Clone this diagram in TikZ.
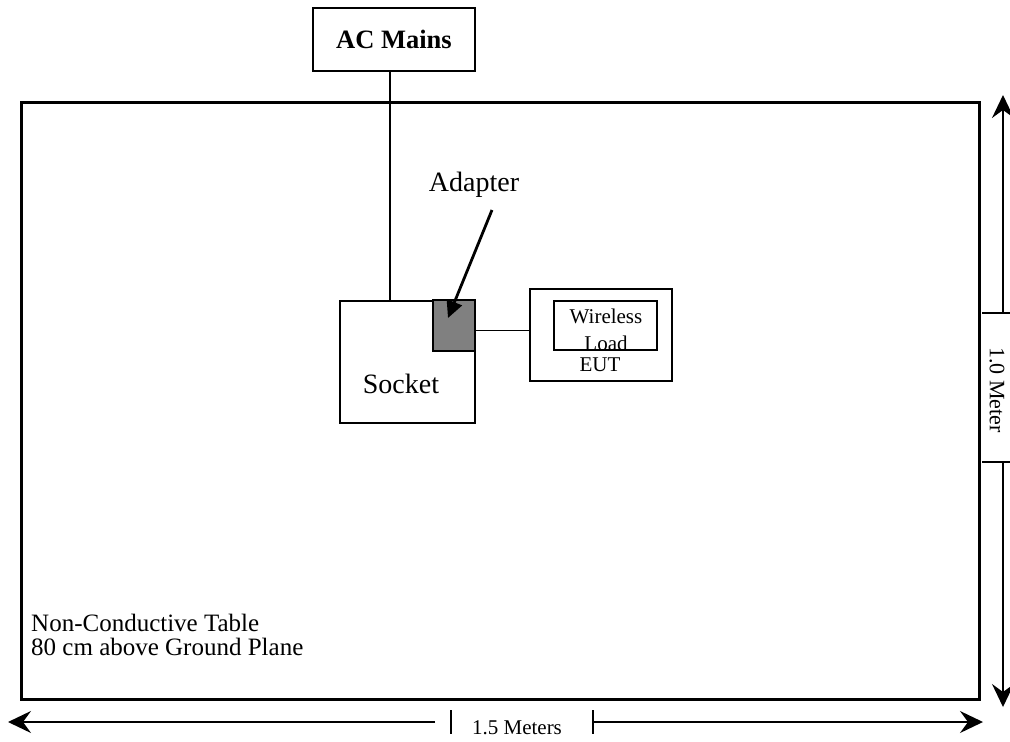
\documentclass[tikz,border=0pt]{standalone}
\usepackage{fontspec}
\setmainfont{Liberation Serif}
\usetikzlibrary{arrows.meta}
\begin{document}
\begin{tikzpicture}[x=1pt,y=-1pt,
  box/.style={draw,line width=1.8pt,inner sep=0pt},
  wire/.style={line width=1.8pt},
  dim/.style={line width=1.6pt},
  bigarrow/.style={-{Stealth[length=23pt,width=22pt,inset=8pt]}},
  lbl/.style={inner sep=0pt}]
\useasboundingbox (0,0) rectangle (1010,742);
% table
\node[draw,line width=3pt,inner sep=0pt,minimum width=958pt,minimum height=597pt] (table) at (500,401) {};
\node[lbl,anchor=north west,align=left,font=\fontsize{25}{24}\selectfont] (tabletext) at (31,614) {Non-Conductive Table\\80 cm above Ground Plane};
% AC mains
\node[box,minimum width=162pt,minimum height=63pt,font=\fontsize{26.5}{28}\selectfont\bfseries] (ac) at (394,39.5) {AC Mains};
% socket
\node[box,minimum width=135pt,minimum height=122pt] (socket) at (407.5,362) {};
\node[lbl,font=\fontsize{28}{30}\selectfont] (sockettext) at (401,384) {Socket};
% adapter
\node[box,fill=black!50,minimum width=42pt,minimum height=51pt] (adapter) at (454,325.5) {};
\node[lbl,font=\fontsize{28}{30}\selectfont] (adaptertext) at (474,185) {Adapter};
\coordinate (arrstart) at (492,210);
\draw[line width=2.8pt,-{Triangle[length=17pt,width=16pt]}] (arrstart) -- (448,318);
% EUT
\node[box,minimum width=142pt,minimum height=92pt] (eut) at (601,335) {};
\node[box,minimum width=103pt,minimum height=49pt] (load) at (605.5,325.5) {};
\node[lbl,font=\fontsize{21}{24}\selectfont] (wl) at (606,316.5) {Wireless};
\node[lbl,font=\fontsize{21}{24}\selectfont] (ld) at (606,343.5) {Load};
\node[lbl,font=\fontsize{21}{24}\selectfont] (euttext) at (600,365) {EUT};
% wires
\draw[wire] (390,0 |- ac.south) -- (390,0 |- socket.north);
\draw[wire] (adapter.east |- 0,330.5) -- (eut.west |- 0,330.5);
% right dimension
\coordinate (rtop) at (1003,95);
\coordinate (rt1) at (1003,313);
\coordinate (rt2) at (1003,462);
\coordinate (rbot) at (1003,707);
\draw[dim,bigarrow] (rt1) -- (rtop);
\draw[dim,bigarrow] (rt2) -- (rbot);
\draw[dim] (982,313) -- (1010,313);
\draw[dim] (982,462) -- (1010,462);
\node[lbl,rotate=-90,font=\fontsize{22}{24}\selectfont] (vlab) at (997,390) {1.0 Meter};
% bottom dimension
\coordinate (bl) at (8,722);
\coordinate (bl1) at (435,722);
\coordinate (br1) at (593,722);
\coordinate (br) at (983,722);
\draw[dim,bigarrow] (bl1) -- (bl);
\draw[dim,bigarrow] (br1) -- (br);
\draw[dim] (451,710) -- (451,734);
\draw[dim] (593,710) -- (593,734);
\node[lbl,font=\fontsize{21}{24}\selectfont] (hlab) at (517,728) {1.5 Meters};
\end{tikzpicture}
\end{document}
